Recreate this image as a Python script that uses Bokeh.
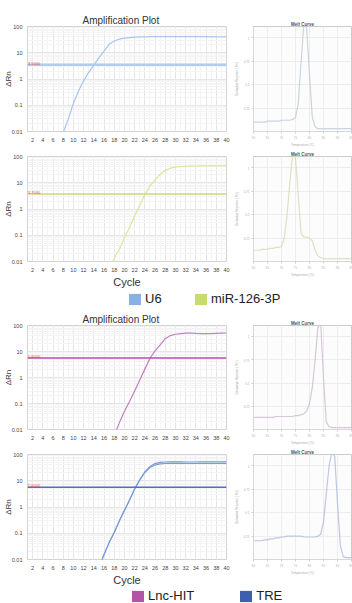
import numpy as np
from bokeh.plotting import figure
from bokeh.layouts import column, row
from bokeh.models import (FixedTicker, CustomJSTickFormatter, Legend, LegendItem,
                          Range1d, Span, Label)
from bokeh.embed import file_html
from bokeh.resources import INLINE

FONT = "Liberation Sans"

# ---------------- data ----------------
u6_cycles = list(range(7, 41))
u6_drn = [0.003, 0.009, 0.03, 0.12, 0.35, 0.85, 1.8, 3.4, 6.5, 11.5,
          21, 28, 33, 36, 38, 39.5, 40, 40.5, 41, 41,
          41, 41.5, 41.5, 41.5, 41.5, 41.5, 41, 41, 41, 41,
          40.5, 40.5, 40, 40]
u6_threshold = 3.5

mir_cycles = list(range(16, 41))
mir_drn = [0.002, 0.005, 0.013, 0.03, 0.08, 0.2, 0.55, 1.4, 3.5, 7.5,
           13, 21, 30, 36, 39.5, 41.5, 42.5, 43, 43.5, 44,
           44, 44, 44, 44, 44]
mir_threshold = 3.7

lnc_cycles = list(range(17, 41))
lnc_drn = [0.002, 0.006, 0.018, 0.05, 0.12, 0.3, 0.8, 2.1, 5.5, 10.5,
           18, 31, 41, 46, 49, 51, 51.5, 50, 49, 48.5,
           49, 50, 51, 51.5]
lnc_threshold = 5.6

tre_cycles = list(range(14, 41))
tre_drn_rep1 = [0.0015, 0.005, 0.016, 0.045, 0.11, 0.3, 0.75, 1.9, 5.0, 11,
                22, 35, 45, 50, 52, 52.5, 52.5, 52.5, 52, 52,
                52, 52.5, 52.5, 52.5, 52.5, 52.5, 52.5]
tre_drn_rep2 = [0.0014, 0.0048, 0.015, 0.043, 0.105, 0.29, 0.72, 1.8, 4.8, 10.5,
                20.5, 32, 40, 44, 45.5, 46, 46, 46, 45.5, 45.5,
                45.5, 45.5, 45.5, 45.5, 45.5, 45.5, 45.5]
tre_threshold = 5.6

melt_temps = list(range(60, 96))
u6_melt = [0.10, 0.10, 0.10, 0.10, 0.10, 0.11, 0.11, 0.11, 0.11, 0.11,
           0.12, 0.12, 0.12, 0.12, 0.13, 0.15, 0.30, 0.75, 1.15, 1.10,
           0.60, 0.15, 0.05, 0.03, 0.03, 0.03, 0.03, 0.03, 0.03, 0.03,
           0.03, 0.03, 0.03, 0.03, 0.03, 0.03]
mir_melt = [0.12, 0.12, 0.12, 0.13, 0.13, 0.13, 0.14, 0.14, 0.15, 0.15,
            0.16, 0.25, 0.50, 0.85, 1.15, 1.10, 0.70, 0.30, 0.26, 0.26,
            0.25, 0.22, 0.12, 0.06, 0.04, 0.03, 0.03, 0.03, 0.03, 0.03,
            0.03, 0.03, 0.03, 0.03, 0.03, 0.03]
lnc_melt = [0.13, 0.13, 0.13, 0.13, 0.13, 0.13, 0.13, 0.13, 0.14, 0.14,
            0.14, 0.14, 0.14, 0.14, 0.14, 0.15, 0.15, 0.16, 0.17, 0.20,
            0.28, 0.45, 0.75, 1.10, 1.15, 0.55, 0.08, 0.03, 0.02, 0.02,
            0.02, 0.02, 0.02, 0.02, 0.02, 0.02]
tre_melt = [0.20, 0.20, 0.20, 0.20, 0.21, 0.21, 0.22, 0.22, 0.23, 0.23,
            0.24, 0.24, 0.25, 0.25, 0.25, 0.25, 0.25, 0.25, 0.24, 0.24,
            0.24, 0.24, 0.24, 0.25, 0.27, 0.40, 0.70, 1.00, 1.15, 1.10,
            0.60, 0.15, 0.03, 0.02, 0.02, 0.02]

x_ticks = list(range(2, 41, 2))
y_ticks = [0.01, 0.1, 1, 10, 100]

legend1_names = ["U6", "miR-126-3P"]
legend2_names = ["Lnc-HIT", "TRE"]

# colours
C_U6_LINE, C_U6_THR, C_U6_KEY = "#a8c5ec", "#b0cdef", "#89b2e2"
C_MIR_LINE, C_MIR_THR, C_MIR_KEY = "#dbe69c", "#cadd78", "#c8dc6c"
C_LNC_LINE, C_LNC_THR, C_LNC_KEY = "#c47fc2", "#b350a8", "#b255a6"
C_TRE_LINE, C_TRE_THR, C_TRE_KEY = "#7b9ad8", "#4b70c4", "#3d5fae"

AMP_W = 232
MELT_W = 120

ylog_fmt = CustomJSTickFormatter(code="""
    return tick >= 1 ? tick.toFixed(0) : String(Number(tick.toPrecision(2)));
""")
minor_log = [k * 10.0 ** e for e in range(-2, 2) for k in range(2, 10)]


def amp_fig(height, top, bottom, title=None, xlabel=None):
    p = figure(width=AMP_W, height=height, x_range=Range1d(1, 40),
               y_range=Range1d(0.01, 100), y_axis_type="log",
               output_backend="svg", toolbar_location=None, title=title,
               min_border_left=27, min_border_right=6,
               min_border_top=top, min_border_bottom=bottom)
    if title:
        p.title.text_font = FONT
        p.title.text_font_size = "10px"
        p.title.text_font_style = "normal"
        p.title.text_color = "#333333"
        p.title.align = "left"
        p.title.offset = 55
        p.title.standoff = 2
    p.xaxis.ticker = FixedTicker(ticks=x_ticks, minor_ticks=list(range(1, 41)))
    p.yaxis.ticker = FixedTicker(ticks=y_ticks, minor_ticks=minor_log)
    p.yaxis.formatter = ylog_fmt
    p.axis.major_label_text_font = FONT
    p.axis.major_label_text_font_size = "5.5px"
    p.axis.major_label_text_color = "#444444"
    p.axis.major_label_standoff = 2
    p.yaxis.major_label_standoff = 1
    p.axis.major_tick_line_color = None
    p.axis.minor_tick_line_color = None
    p.axis.major_tick_out = 0
    p.axis.axis_line_color = None
    p.yaxis.axis_label = "ΔRn"
    p.yaxis.axis_label_text_font = FONT
    p.yaxis.axis_label_text_font_size = "8px"
    p.yaxis.axis_label_text_font_style = "normal"
    p.yaxis.axis_label_text_color = "#333333"
    p.yaxis.axis_label_standoff = -4
    if xlabel:
        p.xaxis.axis_label = xlabel
        p.xaxis.axis_label_text_font = FONT
        p.xaxis.axis_label_text_font_size = "11px"
        p.xaxis.axis_label_text_font_style = "normal"
        p.xaxis.axis_label_text_color = "#333333"
        p.xaxis.axis_label_standoff = 1
    p.outline_line_color = "#d2d2d2"
    p.grid.grid_line_color = "#e6e6e6"
    p.grid.minor_grid_line_color = "#f4f4f4"
    return p


def add_threshold(p, thr, color, width):
    p.add_layout(Span(location=thr, dimension="width", line_color=color,
                      line_width=width))
    p.add_layout(Label(x=1.1, y=thr, text=f"{thr:.4f}", text_font=FONT,
                       text_font_size="4px", text_color="#e8463e",
                       text_baseline="bottom", y_offset=0))


def melt_fig(height, top, bottom, temps, vals, color):
    p = figure(width=MELT_W, height=height, x_range=Range1d(60, 95),
               y_range=Range1d(0, 1.12), title="Melt Curve",
               output_backend="svg", toolbar_location=None,
               min_border_left=19, min_border_right=1,
               min_border_top=top, min_border_bottom=bottom)
    p.title.text_font = FONT
    p.title.text_font_size = "4.5px"
    p.title.text_color = "#555555"
    p.title.align = "center"
    p.title.standoff = 0
    p.line(temps, vals, line_color=color, line_width=1.2, line_alpha=0.8)
    p.xaxis.ticker = FixedTicker(ticks=list(range(60, 96, 5)))
    p.yaxis.ticker = FixedTicker(ticks=[0.25, 0.5, 0.75, 1.0])
    p.axis.major_label_text_font = FONT
    p.axis.major_label_text_font_size = "3px"
    p.axis.major_label_text_color = "#b0b0b0"
    p.axis.major_label_standoff = 2
    p.axis.major_tick_out = 2
    p.axis.major_tick_in = 0
    p.axis.minor_tick_line_color = None
    p.axis.major_tick_line_color = "#cfcfcf"
    p.axis.axis_line_color = "#d8d8d8"
    p.xaxis.axis_label = "Temperature (°C)"
    p.yaxis.axis_label = "Derivative Reporter (-Rn')"
    p.axis.axis_label_text_font = FONT
    p.axis.axis_label_text_font_size = "3px"
    p.axis.axis_label_text_font_style = "normal"
    p.axis.axis_label_text_color = "#aaaaaa"
    p.axis.axis_label_standoff = 2
    p.outline_line_color = "#cccccc"
    p.grid.grid_line_color = "#ededed"
    p.background_fill_color = "#fcfcfc"
    return p


def legend_fig(height, names, colors, loc, spacing):
    p = figure(width=AMP_W + MELT_W, height=height, x_range=Range1d(0, 1),
               y_range=Range1d(0, 1), x_axis_location=None, y_axis_location=None,
               output_backend="svg", toolbar_location=None, min_border=0)
    p.grid.visible = False
    p.outline_line_color = None
    items = []
    for n, c in zip(names, colors):
        # key-only renderer (NaN point is never drawn, only its legend swatch)
        r = p.rect(x=[np.nan], y=[np.nan], width=1, height=1,
                   fill_color=c, line_color=None)
        items.append(LegendItem(label=n, renderers=[r]))
    lg = Legend(items=items, orientation="horizontal", location=loc,
                spacing=spacing, padding=0, margin=0, border_line_color=None,
                background_fill_alpha=0, glyph_width=15, glyph_height=14,
                label_height=14, label_standoff=3, label_text_font=FONT,
                label_text_font_size="13px", label_text_color="#222222")
    p.add_layout(lg, "center")
    return p


# ---- row 1: U6
a1 = amp_fig(149, 26, 9, title="Amplification Plot")
a1.line(u6_cycles, u6_drn, line_color=C_U6_LINE, line_width=1.2)
add_threshold(a1, u6_threshold, C_U6_THR, 2.5)
m1 = melt_fig(149, 25, 12, melt_temps, u6_melt, "#bfc9d8")

# ---- row 2: miR-126-3P
a2 = amp_fig(141, 4, 23, xlabel="Cycle")
a2.line(mir_cycles, mir_drn, line_color=C_MIR_LINE, line_width=1.2)
add_threshold(a2, mir_threshold, C_MIR_THR, 1.5)
m2 = melt_fig(141, 3, 23, melt_temps, mir_melt, "#d6dab4")

leg1 = legend_fig(18, legend1_names, [C_U6_KEY, C_MIR_KEY], (127, 2), 28)

# ---- row 3: Lnc-HIT
a3 = amp_fig(139, 16, 8, title="Amplification Plot")
a3.line(lnc_cycles, lnc_drn, line_color=C_LNC_LINE, line_width=1.2)
add_threshold(a3, lnc_threshold, C_LNC_THR, 1.5)
m3 = melt_fig(139, 17, 10, melt_temps, lnc_melt, "#cdbccd")

# ---- row 4: TRE
a4 = amp_fig(141, 4, 22, xlabel="Cycle")
a4.line(tre_cycles, tre_drn_rep1, line_color=C_TRE_LINE, line_width=1.1)
a4.line(tre_cycles, tre_drn_rep2, line_color=C_TRE_LINE, line_width=1.1)
add_threshold(a4, tre_threshold, C_TRE_THR, 1.5)
m4 = melt_fig(141, 5, 20, melt_temps, tre_melt, "#aebadb")

leg2 = legend_fig(15, legend2_names, [C_LNC_KEY, C_TRE_KEY], (130, 0), 44)

layout = column(
    row(a1, m1, spacing=0),
    row(a2, m2, spacing=0),
    leg1,
    row(a3, m3, spacing=0),
    row(a4, m4, spacing=0),
    leg2,
    spacing=0,
)

open("out.html", "w").write(file_html(layout, INLINE))
